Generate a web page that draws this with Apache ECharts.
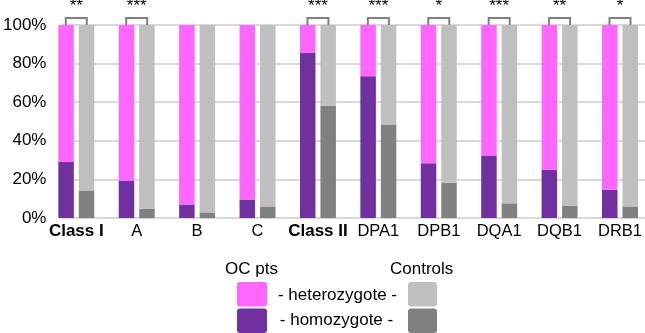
<!DOCTYPE html>
<html>
<head>
<meta charset="utf-8">
<script src="https://cdn.jsdelivr.net/npm/echarts@6/dist/echarts.min.js"></script>
<style>
html,body{margin:0;padding:0;background:#fff;}
#c{width:645px;height:333px;}
</style>
</head>
<body>
<div id="c"></div>
<script>
const categories = ['Class I','A','B','C','Class II','DPA1','DPB1','DQA1','DQB1','DRB1'];
const ocHomozygote = [29.0, 19.3, 7.0, 9.6, 85.7, 73.5, 28.4, 32.4, 25.0, 14.6];
const ocHeterozygote = [71.0, 80.7, 93.0, 90.4, 14.3, 26.5, 71.6, 67.6, 75.0, 85.4];
const ctlHomozygote = [14.0, 4.8, 2.9, 6.0, 58.1, 48.4, 18.3, 7.6, 6.4, 6.0];
const ctlHeterozygote = [86.0, 95.2, 97.1, 94.0, 41.9, 51.6, 81.7, 92.4, 93.6, 94.0];
const significance = ['**','***','','','***','***','*','***','**','*'];
const yTicks = [0, 20, 40, 60, 80, 100];

const FONT = 'Liberation Sans, Arial, sans-serif';
const chart = echarts.init(document.getElementById('c'), null, {renderer:'canvas'});

const barW = 15.5;
const option = {
  animation: false,
  textStyle: {fontFamily: FONT},
  grid: [
    {left: 76.3, right: 21.5, top: 25, height: 193},
    {left: 57, right: 0, top: 25, height: 193}
  ],
  xAxis: [
    {
      type: 'category', gridIndex: 0, data: categories, boundaryGap: false,
      axisLine: {show: false}, axisTick: {show: false}, splitLine: {show: false},
      axisLabel: {
        interval: 0, hideOverlap: false,
        margin: 5, color: '#000', fontSize: 16.5, fontFamily: FONT,
        formatter: v => v.startsWith('Class') ? '{b|' + v + '}' : v,
        rich: {b: {fontWeight: 'bold', fontSize: 17, color: '#000', fontFamily: FONT}}
      }
    },
    {type: 'value', gridIndex: 1, show: false, min: 0, max: 1}
  ],
  yAxis: [
    {type: 'value', gridIndex: 0, min: 0, max: 100, show: false},
    {
      type: 'value', gridIndex: 1, min: yTicks[0], max: yTicks[yTicks.length-1], interval: 20,
      axisLine: {show: false}, axisTick: {show: false},
      axisLabel: {formatter: '{value}%', color: '#000', fontSize: 17, margin: 15, fontFamily: FONT},
      splitLine: {show: true, lineStyle: {color: '#d9d9d9', width: 2}}
    }
  ],
  series: [
    {name: 'OC homozygote', type: 'bar', stack: 'oc', xAxisIndex: 0, yAxisIndex: 0,
     barWidth: barW, barGap: '32%', data: ocHomozygote, itemStyle: {color: '#7030a0'}},
    {name: 'OC heterozygote', type: 'bar', stack: 'oc', xAxisIndex: 0, yAxisIndex: 0,
     barWidth: barW, barGap: '32%', data: ocHeterozygote, itemStyle: {color: '#ff66ff'}},
    {name: 'Controls homozygote', type: 'bar', stack: 'ctl', xAxisIndex: 0, yAxisIndex: 0,
     barWidth: barW, barGap: '32%', data: ctlHomozygote, itemStyle: {color: '#808080'}},
    {name: 'Controls heterozygote', type: 'bar', stack: 'ctl', xAxisIndex: 0, yAxisIndex: 0,
     barWidth: barW, barGap: '32%', data: ctlHeterozygote, itemStyle: {color: '#bfbfbf'}},
    {
      type: 'custom', xAxisIndex: 0, yAxisIndex: 0, clip: false, z: 5,
      data: categories.map((c, i) => [i, 100]),
      renderItem: function (params, api) {
        const s = significance[params.dataIndex];
        if (!s) return null;
        const p = api.coord([api.value(0), api.value(1)]);
        const x = p[0], y = p[1];
        const hw = 10.5, h = 7;
        return {
          type: 'group',
          children: [
            {type: 'polyline', shape: {points: [[x-hw, y], [x-hw, y-h], [x+hw, y-h], [x+hw, y]]},
             style: {stroke: '#808080', lineWidth: 2, fill: null}},
            {type: 'text', x: x, y: -2,
             style: {text: s, fill: '#000', font: '17px ' + FONT, textAlign: 'center', textVerticalAlign: 'top'}}
          ]
        };
      }
    }
  ],
  graphic: [
    {type: 'text', left: 225, top: 261, style: {text: 'OC pts', fill: '#000', font: '17px ' + FONT}},
    {type: 'text', left: 390, top: 261, style: {text: 'Controls', fill: '#000', font: '17px ' + FONT}},
    {type: 'rect', shape: {x: 237, y: 282, width: 30, height: 24.5, r: 3}, style: {fill: '#ff66ff'}},
    {type: 'rect', shape: {x: 237, y: 308.5, width: 30, height: 24.5, r: 3}, style: {fill: '#7030a0'}},
    {type: 'rect', shape: {x: 408, y: 282, width: 29, height: 24.5, r: 3}, style: {fill: '#bfbfbf'}},
    {type: 'rect', shape: {x: 408, y: 308.5, width: 29, height: 24.5, r: 3}, style: {fill: '#808080'}},
    {type: 'text', x: 337.5, y: 295, style: {text: '- heterozygote -', fill: '#000', font: '17px ' + FONT, textAlign: 'center', textVerticalAlign: 'middle'}},
    {type: 'text', x: 336.5, y: 320, style: {text: '- homozygote -', fill: '#000', font: '17px ' + FONT, textAlign: 'center', textVerticalAlign: 'middle'}}
  ]
};
chart.setOption(option);
</script>
</body>
</html>
